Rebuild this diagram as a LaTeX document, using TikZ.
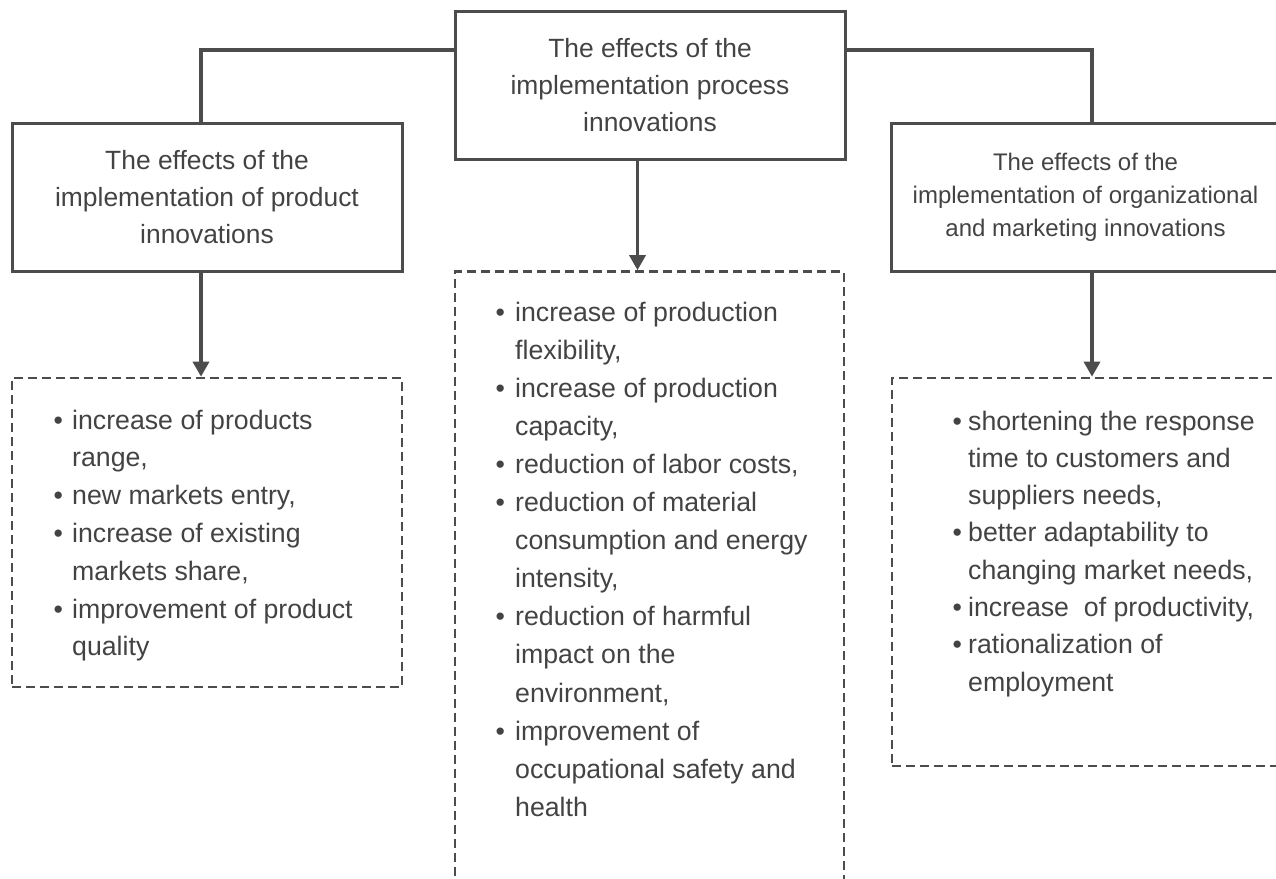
\documentclass[tikz,border=0pt]{standalone}
\usepackage{fontspec}
\setmainfont{Liberation Sans}
\usetikzlibrary{arrows.meta}
\definecolor{linegray}{HTML}{4C4C4C}
\definecolor{textgray}{HTML}{434343}
\newcommand{\bl}{\textbullet}
\begin{document}
\begin{tikzpicture}[x=1pt,y=-1pt,
  headbox/.style={draw=linegray, line width=3pt, inner sep=0pt, align=center,
    text=textgray, minimum width=390pt, minimum height=148pt,
    font=\fontsize{26.4}{37}\selectfont},
  listbox/.style={draw=linegray, line width=2.6pt, dash pattern=on 9pt off 5pt,
    inner sep=0pt},
  listtext/.style={anchor=base west, inner sep=0pt, text=textgray, align=left},
  conn/.style={draw=linegray, line width=3.4pt},
  arr/.style={draw=linegray, line width=3.4pt, -{Triangle[width=16pt,length=15pt]}}]
\useasboundingbox (0,0) rectangle (1276,878);
\clip (0,0) rectangle (1276,878);

% header boxes
\node[headbox] (C) at (650,85.5) {The effects of the\\implementation process\\innovations};
\node[headbox] (L) at (207,197.5) {The effects of the\\implementation of product\\innovations};
\node[headbox, minimum width=389pt, font=\fontsize{24}{33}\selectfont] (R) at (1085.5,197.5)
  {The effects of the\\implementation of organizational\\and marketing innovations};

% dashed list frames
\node[listbox, minimum width=390pt, minimum height=309pt] (LL) at (207,532.5) {};
\node[listbox, minimum width=389pt, minimum height=629pt] (CL) at (649.5,586) {};
\node[listbox, minimum width=388pt, minimum height=388pt] (RL) at (1086,572) {};

% tree connectors
\draw[conn] ([yshift=35.5pt]C.west) -| ([xshift=-6pt]L.north);
\draw[conn] ([yshift=35.5pt]C.east) -| ([xshift=6.5pt]R.north);

% arrows to the lists
\draw[arr] ([xshift=-6pt]L.south) -- ([xshift=-6pt]LL.north);
\draw[arr] ([xshift=-12.5pt]C.south) -- ([xshift=-12pt]CL.north);
\draw[arr] ([xshift=6.5pt]R.south) -- ([xshift=6pt]RL.north);

% bullet lists
\node[listtext] (LT) at (53.3,429) {\fontsize{26.7}{37.8}\selectfont
  \begin{tabular}[t]{@{}p{18.7pt}@{}l@{}}
  \bl & increase of products\\
      & range,\\
  \bl & new markets entry,\\
  \bl & increase of existing\\
      & markets share,\\
  \bl & improvement of product\\
      & quality
  \end{tabular}};

\node[listtext] (CT) at (495.3,321) {\fontsize{26.7}{38.1}\selectfont
  \begin{tabular}[t]{@{}p{19.7pt}@{}l@{}}
  \bl & increase of production\\
      & flexibility,\\
  \bl & increase of production\\
      & capacity,\\
  \bl & reduction of labor costs,\\
  \bl & reduction of material\\
      & consumption and energy\\
      & intensity,\\
  \bl & reduction of harmful\\
      & impact on the\\
      & environment,\\
  \bl & improvement of\\
      & occupational safety and\\
      & health
  \end{tabular}};

\node[listtext] (RT) at (952.3,430) {\fontsize{26.7}{37.3}\selectfont
  \begin{tabular}[t]{@{}p{15.7pt}@{}l@{}}
  \bl & shortening the response\\
      & time to customers and\\
      & suppliers needs,\\
  \bl & better adaptability to\\
      & changing market needs,\\
  \bl & increase\ \ of productivity,\\
  \bl & rationalization of\\
      & employment
  \end{tabular}};
\end{tikzpicture}
\end{document}
